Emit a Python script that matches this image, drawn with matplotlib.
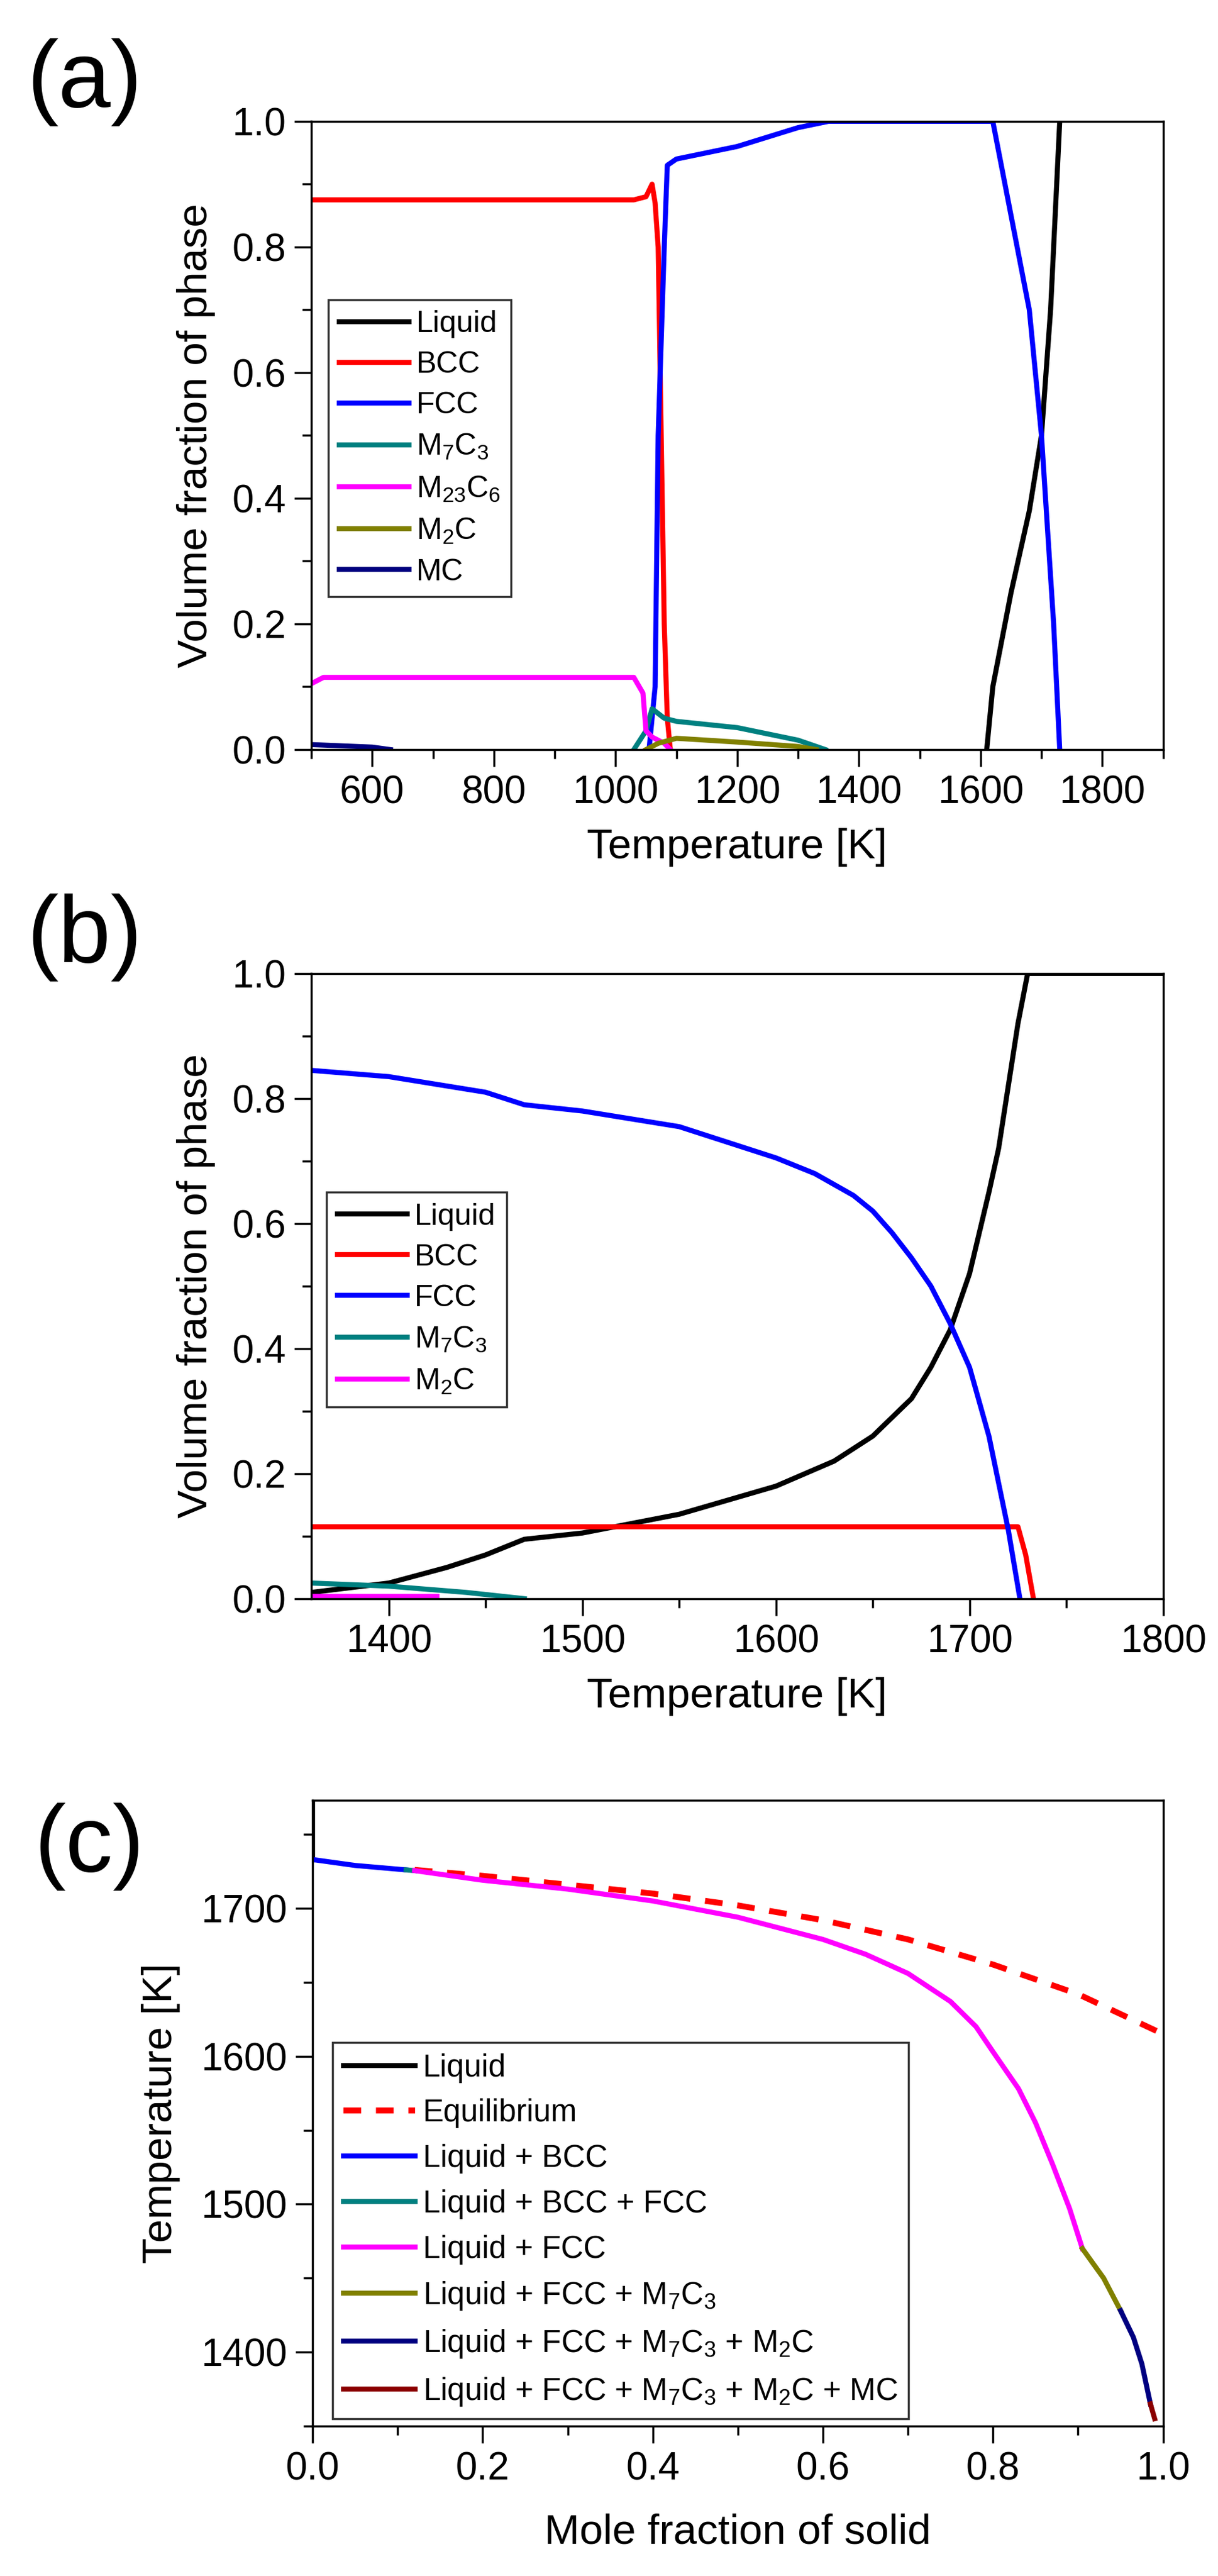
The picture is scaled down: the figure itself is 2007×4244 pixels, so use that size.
import matplotlib
matplotlib.use("Agg")
import matplotlib.pyplot as plt
from matplotlib.ticker import MultipleLocator

plt.rcParams['font.family'] = 'Liberation Sans'
plt.rcParams['mathtext.fontset'] = 'custom'
plt.rcParams['mathtext.rm'] = 'Liberation Sans'
plt.rcParams['mathtext.it'] = 'Liberation Sans'

# ---------------- Panel (a) data ----------------
a_liq_T = [1610, 1620, 1650, 1680, 1700, 1715, 1725, 1730]
a_liq_f = [0.0, 0.10, 0.25, 0.38, 0.50, 0.70, 0.90, 1.00]
a_bcc_T = [500, 1030, 1050, 1060, 1065, 1070, 1075, 1080, 1085, 1090]
a_bcc_f = [0.875, 0.875, 0.88, 0.90, 0.87, 0.80, 0.50, 0.20, 0.05, 0.0]
a_fcc_T = [1055, 1065, 1070, 1080, 1085, 1100, 1200, 1300, 1350, 1620, 1660, 1680, 1700, 1720, 1730]
a_fcc_f = [0.0, 0.10, 0.50, 0.80, 0.93, 0.94, 0.96, 0.99, 1.0, 1.0, 0.80, 0.70, 0.50, 0.20, 0.0]
a_m7c3_T = [1030, 1050, 1060, 1080, 1100, 1200, 1300, 1345]
a_m7c3_f = [0.0, 0.03, 0.065, 0.05, 0.045, 0.035, 0.015, 0.0]
a_m23c6_T = [500, 520, 1030, 1045, 1050, 1060, 1080, 1090]
a_m23c6_f = [0.105, 0.115, 0.115, 0.09, 0.03, 0.02, 0.01, 0.0]
a_m2c_T = [1050, 1070, 1100, 1200, 1300, 1330]
a_m2c_f = [0.0, 0.01, 0.018, 0.012, 0.005, 0.0]
a_mc_T = [500, 600, 630]
a_mc_f = [0.008, 0.004, 0.0]

# ---------------- Panel (b) data ----------------
b_liq_T = [1360, 1400, 1430, 1450, 1470, 1500, 1550, 1600, 1630, 1650, 1670, 1680, 1690, 1700, 1710, 1715, 1725, 1730, 1800]
b_liq_f = [0.01, 0.025, 0.05, 0.07, 0.095, 0.105, 0.135, 0.18, 0.22, 0.26, 0.32, 0.37, 0.43, 0.52, 0.65, 0.72, 0.92, 1.0, 1.0]
b_bcc_T = [1360, 1725, 1729, 1733]
b_bcc_f = [0.115, 0.115, 0.07, 0.0]
b_fcc_T = [1360, 1400, 1450, 1470, 1500, 1550, 1600, 1620, 1640, 1650, 1660, 1670, 1680, 1690, 1700, 1710, 1720, 1726]
b_fcc_f = [0.845, 0.835, 0.81, 0.79, 0.78, 0.755, 0.705, 0.68, 0.645, 0.62, 0.585, 0.545, 0.50, 0.44, 0.37, 0.26, 0.11, 0.0]
b_m7c3_T = [1360, 1400, 1440, 1470]
b_m7c3_f = [0.025, 0.02, 0.01, 0.0]
b_m2c_T = [1360, 1425]
b_m2c_f = [0.004, 0.004]

# ---------------- Panel (c) data ----------------
c_liq_x = [0.0, 0.0]
c_liq_T = [1773, 1733]
c_eq_x = [0.12, 0.2, 0.3, 0.4, 0.5, 0.6, 0.7, 0.8, 0.9, 1.0]
c_eq_T = [1726, 1722, 1716, 1710, 1702, 1692, 1679, 1662, 1642, 1615]
c_bcc_x = [0.0, 0.05, 0.11]
c_bcc_T = [1733, 1729, 1726]
c_bccfcc_x = [0.11, 0.12]
c_bccfcc_T = [1726, 1725.5]
c_fcc_x = [0.12, 0.2, 0.3, 0.4, 0.5, 0.6, 0.65, 0.7, 0.75, 0.78, 0.8, 0.83, 0.85, 0.87, 0.89, 0.905]
c_fcc_T = [1725.5, 1719, 1713, 1705, 1694, 1679, 1669, 1656, 1637, 1620, 1603, 1578, 1555, 1527, 1497, 1470]
c_m7c3_x = [0.905, 0.93, 0.95]
c_m7c3_T = [1470, 1450, 1428]
c_m2c_x = [0.95, 0.965, 0.975, 0.985]
c_m2c_T = [1428, 1410, 1392, 1365]
c_mc_x = [0.985, 0.99]
c_mc_T = [1365, 1355]

fig = plt.figure(figsize=(20.08, 42.44), dpi=100)
LW = 6
TICK = 46
LAB = 50

def style(ax, xmaj, xmin, ymaj, ymin):
    ax.xaxis.set_major_locator(MultipleLocator(xmaj))
    ax.xaxis.set_minor_locator(MultipleLocator(xmin))
    ax.yaxis.set_major_locator(MultipleLocator(ymaj))
    ax.yaxis.set_minor_locator(MultipleLocator(ymin))
    ax.tick_params(which='major', length=20, width=2.5, labelsize=TICK, direction='out', pad=10)
    ax.tick_params(which='minor', length=11, width=2.5, direction='out')
    for s in ax.spines.values():
        s.set_linewidth(2.5)

def leg(ax, x, y, fs, ls, loc='upper left'):
    l = ax.legend(loc=loc, bbox_to_anchor=(x, y), borderaxespad=0, fontsize=fs,
                  frameon=True, fancybox=False, edgecolor='black', handlelength=2.3,
                  labelspacing=ls, handletextpad=0.25, borderpad=0.35)
    l.get_frame().set_linewidth(2.5)

# (a)
ax = fig.add_axes([0.2555, 0.709, 0.699, 0.2439])
ax.plot(a_liq_T, a_liq_f, color='black', lw=LW, label='Liquid')
ax.plot(a_bcc_T, a_bcc_f, color='red', lw=LW, label='BCC')
ax.plot(a_fcc_T, a_fcc_f, color='blue', lw=LW, label='FCC')
ax.plot(a_m7c3_T, a_m7c3_f, color='#008080', lw=LW, label='M$_7$C$_3$')
ax.plot(a_m23c6_T, a_m23c6_f, color='magenta', lw=LW, label='M$_{23}$C$_6$')
ax.plot(a_m2c_T, a_m2c_f, color='#808000', lw=LW, label='M$_2$C')
ax.plot(a_mc_T, a_mc_f, color='#000080', lw=LW, label='MC')
ax.set_xlim(500, 1900); ax.set_ylim(0, 1)
style(ax, 200, 100, 0.2, 0.1)
ax.set_xlabel('Temperature [K]', fontsize=LAB, labelpad=20)
ax.set_ylabel('Volume fraction of phase', fontsize=LAB, labelpad=20)
leg(ax, 0.020, 0.716, 36, 0.42)
fig.text(0.022, 0.968, '(a)', fontsize=112, va='center')

# (b)
ax = fig.add_axes([0.2555, 0.3794, 0.699, 0.2427])
ax.plot(b_liq_T, b_liq_f, color='black', lw=LW, label='Liquid')
ax.plot(b_bcc_T, b_bcc_f, color='red', lw=LW, label='BCC')
ax.plot(b_fcc_T, b_fcc_f, color='blue', lw=LW, label='FCC')
ax.plot(b_m7c3_T, b_m7c3_f, color='#008080', lw=LW, label='M$_7$C$_3$')
ax.plot(b_m2c_T, b_m2c_f, color='magenta', lw=LW, label='M$_2$C')
ax.set_xlim(1360, 1800); ax.set_ylim(0, 1)
style(ax, 100, 50, 0.2, 0.1)
ax.set_xlabel('Temperature [K]', fontsize=LAB, labelpad=20)
ax.set_ylabel('Volume fraction of phase', fontsize=LAB, labelpad=20)
leg(ax, 0.018, 0.65, 36, 0.42)
fig.text(0.022, 0.636, '(b)', fontsize=112, va='center')

# (c)
ax = fig.add_axes([0.2565, 0.0582, 0.698, 0.2429])
ax.plot(c_liq_x, c_liq_T, color='black', lw=LW, label='Liquid')
ax.plot(c_eq_x, c_eq_T, color='red', lw=LW + 1, ls=(0, (3, 2.5)), label='Equilibrium')
ax.plot(c_bcc_x, c_bcc_T, color='blue', lw=LW, label='Liquid + BCC')
ax.plot(c_bccfcc_x, c_bccfcc_T, color='#008080', lw=LW, label='Liquid + BCC + FCC')
ax.plot(c_fcc_x, c_fcc_T, color='magenta', lw=LW, label='Liquid + FCC')
ax.plot(c_m7c3_x, c_m7c3_T, color='#808000', lw=LW, label='Liquid + FCC + M$_7$C$_3$')
ax.plot(c_m2c_x, c_m2c_T, color='#000080', lw=LW, label='Liquid + FCC + M$_7$C$_3$ + M$_2$C')
ax.plot(c_mc_x, c_mc_T, color='#8B0000', lw=LW, label='Liquid + FCC + M$_7$C$_3$ + M$_2$C + MC')
ax.set_xlim(0, 1); ax.set_ylim(1350, 1773)
style(ax, 0.2, 0.1, 100, 50)
ax.set_xlabel('Mole fraction of solid', fontsize=LAB, labelpad=30)
ax.set_ylabel('Temperature [K]', fontsize=LAB, labelpad=25)
leg(ax, 0.0235, 0.012, 37, 0.5, loc='lower left')
fig.text(0.028, 0.283, '(c)', fontsize=112, va='center')

fig.savefig('out.png', dpi=100)
